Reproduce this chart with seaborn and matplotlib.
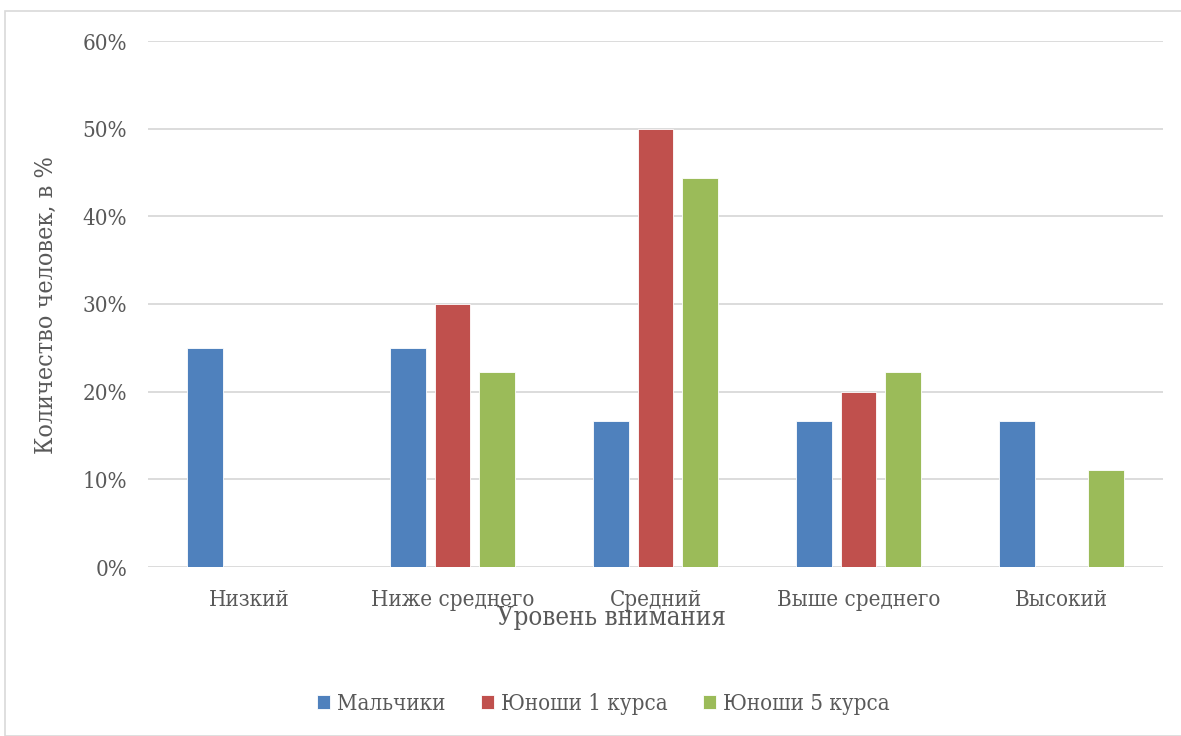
import matplotlib
matplotlib.use("Agg")
import matplotlib.pyplot as plt
from matplotlib.patches import Rectangle
from matplotlib.ticker import PercentFormatter, MultipleLocator
import seaborn as sns
import pandas as pd

# Attention level categories and shares (%) per group
levels = ["Низкий", "Ниже среднего", "Средний", "Выше среднего", "Высокий"]
groups = ["Мальчики", "Юноши 1 курса", "Юноши 5 курса"]
boys = [25.0, 25.0, 16.7, 16.7, 16.7]
first_year = [0.0, 30.0, 50.0, 20.0, 0.0]
fifth_year = [0.0, 22.2, 44.4, 22.2, 11.1]
colors = ["#4F81BD", "#C0504D", "#9BBB59"]

rows = []
for g, vals in zip(groups, [boys, first_year, fifth_year]):
    for lvl, v in zip(levels, vals):
        rows.append({"level": lvl, "group": g, "value": v})
df = pd.DataFrame(rows)

sns.set_style("white")
plt.rcParams["font.family"] = ["DejaVu Serif"]
plt.rcParams["font.stretch"] = "condensed"
text_color = "#595959"

W, H = 1181, 736
fig = plt.figure(figsize=(W / 100, H / 100), dpi=100)
ax = fig.add_axes([148 / W, 1 - 567 / H, (1163 - 148) / W, (567 - 41) / H])

sns.barplot(data=df, x="level", y="value", hue="group", order=levels,
            hue_order=groups, palette=colors, saturation=1, width=0.665, gap=0.2,
            errorbar=None, edgecolor="white", linewidth=0.6, ax=ax,
            zorder=3)

ax.set_ylim(0, 60)
ax.set_xlim(-0.5, len(levels) - 0.5)
ax.yaxis.set_major_locator(MultipleLocator(10))
ax.yaxis.set_major_formatter(PercentFormatter(xmax=100, decimals=0))
ax.grid(axis="y", color="#D9D9D9", linewidth=1.3, zorder=0)
ax.set_axisbelow(True)
for s in ax.spines.values():
    s.set_visible(False)
ax.tick_params(axis="both", length=0, colors=text_color, labelsize=16)
ax.tick_params(axis="y", pad=15)
ax.tick_params(axis="x", pad=16)
ax.set_xlabel("")
ax.set_ylabel("")
ax.legend_.remove()

fig.text(611 / W, 1 - 617 / H, "Уровень внимания", ha="center", va="center",
         fontsize=18.5, color=text_color)
fig.text(46 / W, 1 - 305 / H, "Количество человек, в %", ha="center",
         va="center", rotation=90, fontsize=18, color=text_color)

handles, labels = ax.get_legend_handles_labels()
fig.legend(handles, labels, loc="center", bbox_to_anchor=(603 / W, 1 - 704 / H),
           ncol=3, frameon=False, fontsize=16, labelcolor=text_color,
           handlelength=0.6, handleheight=0.6, handletextpad=0.3,
           columnspacing=1.6)

# outer chart border
fig.patches.append(Rectangle((5 / W, 0), 1.2, 1 - 11 / H, transform=fig.transFigure,
                             fill=False, edgecolor="#D9D9D9", linewidth=1.2))

fig.savefig("out.png", dpi=100)
